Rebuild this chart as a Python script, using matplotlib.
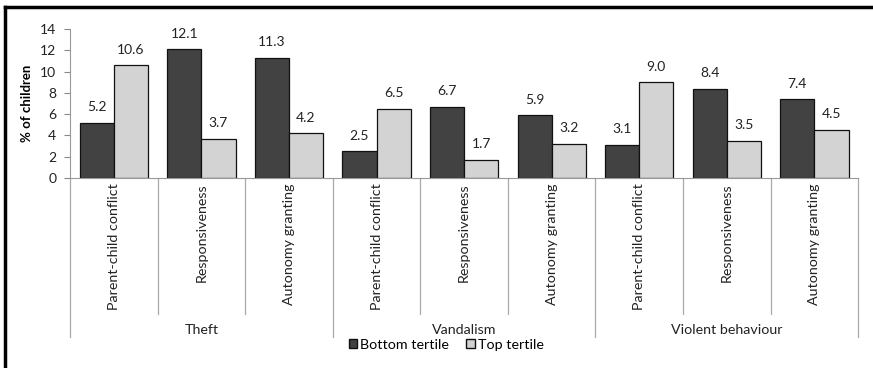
import matplotlib.pyplot as plt
import matplotlib.transforms as mtransforms
from matplotlib.lines import Line2D
from matplotlib.patches import Patch
import numpy as np

plt.rcParams['font.family'] = ['Lato', 'DejaVu Sans']

# ----------------------
# Data
# ----------------------
groups = ["Theft", "Vandalism", "Violent behaviour"]
subcats = ["Parent-child conflict", "Responsiveness", "Autonomy granting"]
bottom_tertile = [5.2, 12.1, 11.3, 2.5, 6.7, 5.9, 3.1, 8.4, 7.4]
top_tertile = [10.6, 3.7, 4.2, 6.5, 1.7, 3.2, 9.0, 3.5, 4.5]

labels = subcats * len(groups)
x = np.arange(len(labels))
w = 0.39

# ----------------------
# Figure
# ----------------------
fig = plt.figure(figsize=(8.73, 3.68), dpi=100)
ax = fig.add_axes([0.0802, 0.5163, 0.9028, 0.4047])

b1 = ax.bar(x - w / 2, bottom_tertile, w, color="#424242", edgecolor="#111111", linewidth=0.9)
b2 = ax.bar(x + w / 2, top_tertile, w, color="#d3d3d3", edgecolor="#111111", linewidth=0.9)

for bars, vals in ((b1, bottom_tertile), (b2, top_tertile)):
    for r, v in zip(bars, vals):
        ax.annotate(f"{v:.1f}", (r.get_x() + r.get_width() / 2, v),
                    xytext=(0, 7), textcoords="offset points",
                    ha="center", va="bottom", fontsize=10, color="#222222")

ax.set_xlim(-0.5, len(labels) - 0.5)
ax.set_ylim(0, 14)
ax.set_yticks(range(0, 15, 2))
ax.tick_params(axis="y", labelsize=10, length=4, color="#888888", pad=6, labelcolor="#222222")
ax.set_ylabel("% of children", fontsize=9.5, fontweight="bold", labelpad=5)

for s in ("top", "right"):
    ax.spines[s].set_visible(False)
ax.spines["left"].set_color("#999999")
ax.spines["bottom"].set_color("#999999")

# category labels
ax.set_xticks([])
trans = mtransforms.blended_transform_factory(ax.transData, ax.transAxes)
for xi, lab in zip(x, labels):
    ax.text(xi, -0.035, lab, rotation=90, ha="center", va="top",
            fontsize=10.3, color="#222222", transform=trans)

# separators
for i in range(len(labels) + 1):
    xs = i - 0.5
    bottom = -1.067 if i % 3 == 0 else -0.913
    ax.add_line(Line2D([xs, xs], [0, bottom], transform=trans, color="#aaaaaa",
                       linewidth=0.9, clip_on=False))

for gi, g in enumerate(groups):
    ax.text(gi * 3 + 1, -1.02, g, ha="center", va="center",
            fontsize=10.3, color="#222222", transform=trans)

# legend
handles = [Patch(facecolor="#424242", edgecolor="#111111", label="Bottom tertile"),
           Patch(facecolor="#d3d3d3", edgecolor="#111111", label="Top tertile")]
fig.legend(handles=handles, loc="center", bbox_to_anchor=(0.511, 0.0625), ncol=2,
           frameon=False, fontsize=10.3, handlelength=0.6, handleheight=0.6,
           handletextpad=0.2, columnspacing=1.2)

# frame around figure
fig.add_artist(Line2D([0.006, 1.0], [0.981, 0.981], transform=fig.transFigure,
                      color="black", linewidth=2.5))
fig.add_artist(Line2D([0.006, 0.006], [0.0, 0.981], transform=fig.transFigure,
                      color="black", linewidth=2.5))

fig.savefig("out.png", dpi=100)
